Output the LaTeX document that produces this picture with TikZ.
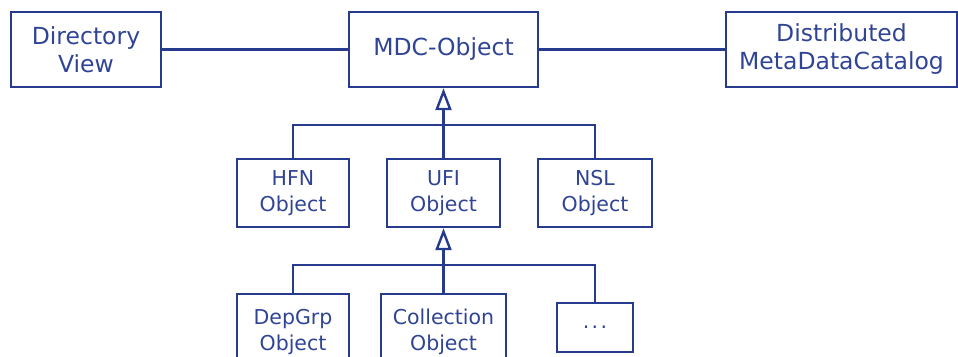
\documentclass[tikz,border=0pt]{standalone}
\usepackage{fontspec}
\setmainfont{DejaVu Sans}
\usetikzlibrary{arrows.meta}
\definecolor{umlblue}{RGB}{38,58,142}
\definecolor{umltext}{RGB}{48,68,150}
\tikzset{
  box/.style={draw=umlblue, line width=2.4pt, rectangle, inner sep=0pt,
    text=umltext, align=center},
  bigbox/.style={box, font=\fontsize{23.5}{28}\selectfont},
  smallbox/.style={box, font=\fontsize{20.5}{25.5}\selectfont},
  link/.style={draw=umlblue, line width=2.4pt},
  inherit/.style={link, -{Triangle[open, length=22pt, width=16pt]}}
}
\begin{document}
\begin{tikzpicture}[x=1pt, y=-1pt]
  \useasboundingbox (0,0) rectangle (958,356);
  \clip (0,0) rectangle (958,356);

  % top row
  \node[bigbox, minimum width=150pt, minimum height=75pt] (dir) at (86,49.5) {Directory\\View};
  \node[bigbox, minimum width=189pt, minimum height=75pt] (mdc) at (443.5,49.5) {MDC-Object};
  \node[bigbox, minimum width=231pt, minimum height=75pt] (dmc) at (841.5,49.5) {Distributed\\MetaDataCatalog};

  % second row
  \node[smallbox, minimum width=112pt, minimum height=68pt] (hfn) at (293,193) {HFN\\Object};
  \node[smallbox, minimum width=113pt, minimum height=68pt] (ufi) at (443.5,193) {UFI\\Object};
  \node[smallbox, minimum width=114pt, minimum height=68pt] (nsl) at (595,193) {NSL\\Object};

  % third row
  \node[smallbox, minimum width=112pt, minimum height=76pt] (dep) at (293,332) {DepGrp\\Object};
  \node[smallbox, minimum width=125pt, minimum height=76pt] (col) at (443.5,332) {Collection\\Object};
  \node[smallbox, minimum width=76pt, minimum height=49pt] (etc) at (595,327.5) {\raisebox{-0.2ex}{.\hspace{0.12em}.\hspace{0.12em}.}};

  % associations
  \draw[link] (dir.east) -- (mdc.west);
  \draw[link] (mdc.east) -- (dmc.west);

  % generalisation of MDC-Object
  \coordinate (busA) at (443.5,125);
  \draw[inherit] (ufi.north) -- (mdc.south);
  \draw[link] (hfn.north) -- (hfn.north |- busA) -- (nsl.north |- busA) -- (nsl.north);

  % generalisation of UFI Object
  \coordinate (busB) at (443.5,265);
  \draw[inherit] (col.north) -- (ufi.south);
  \draw[link] (dep.north) -- (dep.north |- busB) -- (etc.north |- busB) -- (etc.north);
\end{tikzpicture}
\end{document}
